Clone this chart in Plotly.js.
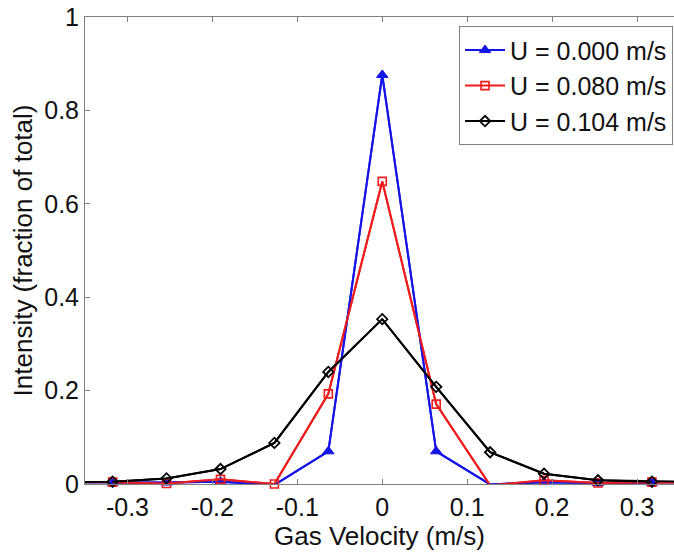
<!DOCTYPE html>
<html>
<head>
<meta charset="utf-8">
<script src="https://cdn.plot.ly/plotly-3.0.1.min.js"></script>
<style>html,body{margin:0;padding:0;background:#fff;}#chart{width:674px;height:552px;}</style>
</head>
<body>
<div id="chart"></div>
<script>
// Gas velocity bins (m/s)
var velocity = [-0.381, -0.3175, -0.254, -0.1905, -0.127, -0.0635, 0, 0.0635, 0.127, 0.1905, 0.254, 0.3175, 0.381];
// Intensity (fraction of total)
var u000 = [0.003, 0.003, 0.003, 0.005, -0.002, 0.07, 0.876, 0.07, -0.001, 0.004, 0.002, 0.003, 0.003];
var u080 = [0.004, 0.004, 0.001, 0.01, 0.0, 0.193, 0.648, 0.171, -0.003, 0.008, 0.002, 0.004, 0.004];
var u104 = [0.004, 0.005, 0.012, 0.032, 0.088, 0.24, 0.353, 0.208, 0.068, 0.022, 0.008, 0.005, 0.004];
var seriesNames = ["U = 0.000 m/s", "U = 0.080 m/s", "U = 0.104 m/s"];
var xTickVals = [-0.3, -0.2, -0.1, 0, 0.1, 0.2, 0.3];
var xTickText = ["-0.3", "-0.2", "-0.1", "0", "0.1", "0.2", "0.3"];
var yTickVals = [0, 0.2, 0.4, 0.6, 0.8, 1];
var yTickText = ["0", "0.2", "0.4", "0.6", "0.8", "1"];

var xRange = [-0.35, 0.3435];
var series = [
  {y: u000, name: seriesNames[0], color: '#1414e6', symbol: 'triangle-up', size: 10, lw: 1},
  {y: u080, name: seriesNames[1], color: '#ee1c1c', symbol: 'square-open', size: 8, lw: 1.6},
  {y: u104, name: seriesNames[2], color: '#000000', symbol: 'diamond-open', size: 8, lw: 1.8}
];

var traces = [];
series.forEach(function(s) {
  traces.push({
    x: velocity, y: s.y, type: 'scatter', mode: 'lines',
    line: {color: s.color, width: 2}, showlegend: false, hoverinfo: 'skip'
  });
});
series.forEach(function(s) {
  var xs = [], ys = [];
  velocity.forEach(function(v, i) {
    if (v >= xRange[0] && v <= xRange[1]) { xs.push(v); ys.push(s.y[i]); }
  });
  traces.push({
    x: xs, y: ys, type: 'scatter', mode: 'lines+markers', name: s.name,
    line: {color: s.color, width: 2},
    marker: {symbol: s.symbol, size: s.size, color: s.color, line: {color: s.color, width: s.lw}},
    cliponaxis: false
  });
});

var layout = {
  width: 674, height: 552,
  margin: {l: 85, r: 0, t: 17, b: 68, autoexpand: false},
  paper_bgcolor: '#ffffff', plot_bgcolor: '#ffffff',
  font: {family: 'Liberation Sans, Arial, sans-serif', color: '#111111'},
  showlegend: true,
  legend: {
    x: 0.635, y: 0.98, xanchor: 'left', yanchor: 'top',
    bgcolor: '#ffffff', bordercolor: '#808080', borderwidth: 1,
    font: {size: 25, color: '#111111'}, itemwidth: 40, tracegroupgap: 0
  },
  xaxis: {
    range: xRange, tickvals: xTickVals, ticktext: xTickText,
    showgrid: false, zeroline: false, showline: true, linecolor: '#808080', linewidth: 1,
    mirror: 'ticks', ticks: 'inside', ticklen: 5, tickcolor: '#808080',
    tickfont: {size: 25}, ticklabelstandoff: 1, automargin: false,
    title: {text: 'Gas Velocity (m/s)', font: {size: 26}, standoff: 2}
  },
  yaxis: {
    range: [0, 1], tickvals: yTickVals, ticktext: yTickText,
    showgrid: false, zeroline: false, showline: true, linecolor: '#808080', linewidth: 1,
    ticks: 'inside', ticklen: 5, tickcolor: '#808080',
    tickfont: {size: 25}, automargin: false,
    title: {text: 'Intensity (fraction of total)', font: {size: 26}, standoff: 4}
  }
};

Plotly.newPlot('chart', traces, layout, {displayModeBar: false, staticPlot: true});
</script>
</body>
</html>
